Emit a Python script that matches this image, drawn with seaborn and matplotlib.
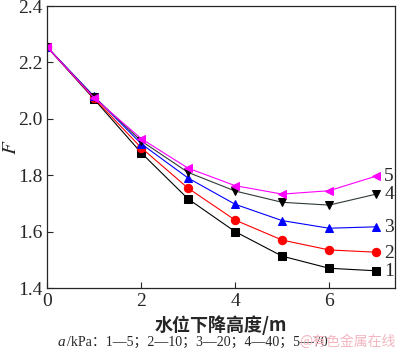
import pandas as pd
import numpy as np
import matplotlib.pyplot as plt
import seaborn as sns

sns.set_style('ticks')
plt.rcParams['font.family'] = ['Liberation Serif', 'Noto Sans CJK SC']
plt.rcParams['mathtext.fontset'] = 'stix'

# water level drop (m) and safety factor F for each cohesion case
drop_m = [0, 1, 2, 3, 4, 5, 6, 7]
f_1 = [2.255, 2.070, 1.880, 1.716, 1.600, 1.513, 1.470, 1.461]
f_2 = [2.255, 2.073, 1.898, 1.754, 1.641, 1.570, 1.535, 1.527]
f_3 = [2.255, 2.080, 1.912, 1.790, 1.697, 1.639, 1.612, 1.617]
f_4 = [2.255, 2.078, 1.922, 1.810, 1.744, 1.704, 1.694, 1.733]
f_5 = [2.255, 2.075, 1.930, 1.825, 1.763, 1.733, 1.745, 1.797]
series_labels = ['1', '2', '3', '4', '5']

df = pd.DataFrame({
    'drop': drop_m * 5,
    'F': f_1 + f_2 + f_3 + f_4 + f_5,
    'case': np.repeat(series_labels, len(drop_m)),
})

colors = {'1': 'black', '2': 'red', '3': 'blue', '4': '#2f3a33', '5': 'magenta'}
mface = {'1': 'black', '2': 'red', '3': 'blue', '4': 'black', '5': 'magenta'}
markers = {'1': 's', '2': 'o', '3': '^', '4': 'v', '5': '<'}

fig = plt.figure(figsize=(4.0, 3.56), dpi=100)
ax = fig.add_axes([0.1175, 0.191, 0.87, 0.792])

for lab in series_labels:
    sub = df[df['case'] == lab]
    sns.lineplot(data=sub, x='drop', y='F', ax=ax, color=colors[lab],
                 marker=markers[lab], markersize=6, markerfacecolor=mface[lab],
                 markeredgecolor=mface[lab], linewidth=0.8, legend=False)
    ax.text(sub['drop'].iloc[-1] + 0.17, sub['F'].iloc[-1] - 0.003, lab,
            fontsize=14, va='center', ha='left')

ax.set_xlim(0, 7.4)
ax.set_ylim(1.4, 2.4)
ax.set_xticks([0, 2, 4, 6])
ax.set_yticks([1.4, 1.6, 1.8, 2.0, 2.2, 2.4])
ax.set_yticklabels(['1.4', '1.6', '1.8', '2.0', '2.2', '2.4'])
ax.tick_params(direction='in', length=4, labelsize=14, width=0.8)
for s in ax.spines.values():
    s.set_linewidth(0.9)
ax.set_xlabel('水位下降高度/m', fontsize=13, fontweight='bold',
              family=['Noto Sans CJK SC', 'DejaVu Sans'], labelpad=4)
ax.set_ylabel('$F$', fontsize=15)
ax.yaxis.set_label_coords(-0.075, 0.5)

fig.text(0.145, 0.028, 'a', fontsize=11, style='italic', ha='left',
         va='baseline', family='Liberation Serif')
fig.text(0.168, 0.028, '/kPa：1—5；2—10；3—20；4—40；5—70',
         fontsize=10, ha='left', va='baseline',
         family=['Liberation Serif', 'Noto Sans CJK SC'])
fig.text(0.99, 0.028, '@有色金属在线', fontsize=10, color='#f4b6c0',
         ha='right', va='baseline', family=['Noto Sans CJK SC', 'DejaVu Sans'])

fig.savefig('out.png', dpi=100)
